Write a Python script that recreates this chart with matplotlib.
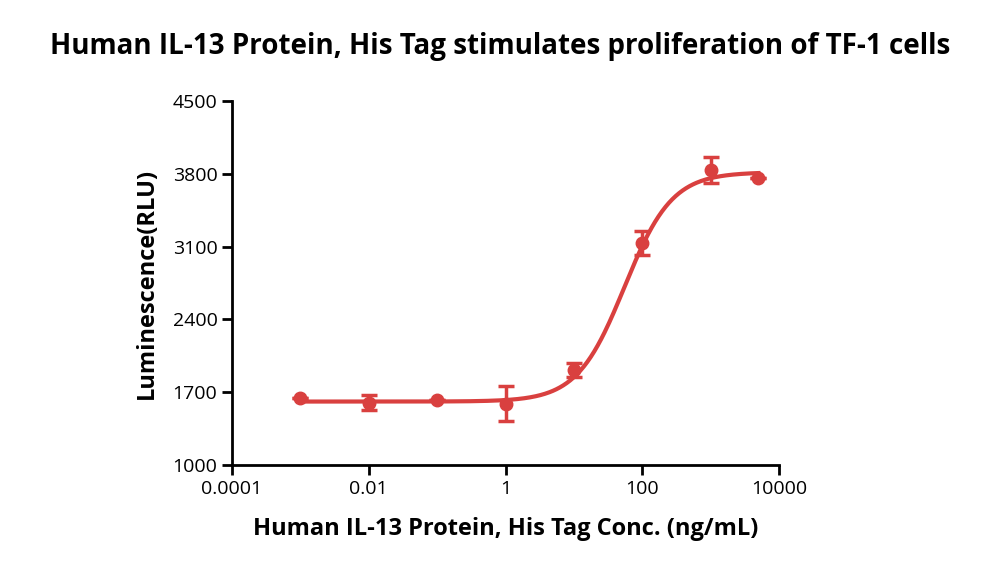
import numpy as np
import matplotlib
matplotlib.use("Agg")
import matplotlib.pyplot as plt

conc = [0.001, 0.01, 0.1, 1, 10, 100, 1000, 5000]
rlu = [1644, 1600, 1625, 1590, 1913, 3135, 3840, 3760]
err = [0, 75, 0, 170, 70, 115, 125, 0]
# 4PL fit parameters
bottom, top, ec50, hill = 1610, 3815, 55, 1.25

color = "#d9403f"
plt.rcParams['font.family'] = ['Open Sans', 'DejaVu Sans']
fig = plt.figure(figsize=(10, 5.79), dpi=100)
ax = fig.add_axes([0.232, 1 - 465/579, 0.547, 364/579])
xs = np.logspace(np.log10(0.001), np.log10(5000), 400)
ys = bottom + (top - bottom) / (1 + (ec50 / xs) ** hill)
ax.plot(xs, ys, color=color, lw=3)
ax.errorbar(conc, rlu, yerr=err, fmt='o', color=color, ms=9, capsize=6, capthick=2.5, elinewidth=2.5)
ax.set_xscale('log')
ax.set_xlim(1e-4, 1e4)
ax.set_ylim(1000, 4500)
ax.set_xticks([1e-4, 1e-2, 1, 1e2, 1e4])
ax.set_xticklabels(['0.0001', '0.01', '1', '100', '10000'])
ax.minorticks_off()
ax.set_yticks([1000, 1700, 2400, 3100, 3800, 4500])
for s in ['top', 'right']:
    ax.spines[s].set_visible(False)
for s in ['left', 'bottom']:
    ax.spines[s].set_linewidth(2)
ax.tick_params(width=2, length=7, labelsize=14)
ax.set_xlabel('Human IL-13 Protein, His Tag Conc. (ng/mL)', fontsize=17, fontweight='bold', labelpad=14)
ax.set_ylabel('Luminescence(RLU)', fontsize=17, fontweight='bold', labelpad=10)
fig.suptitle('Human IL-13 Protein, His Tag stimulates proliferation of TF-1 cells', fontsize=20, fontweight='bold', y=0.945)
fig.savefig('out.png', dpi=100)
